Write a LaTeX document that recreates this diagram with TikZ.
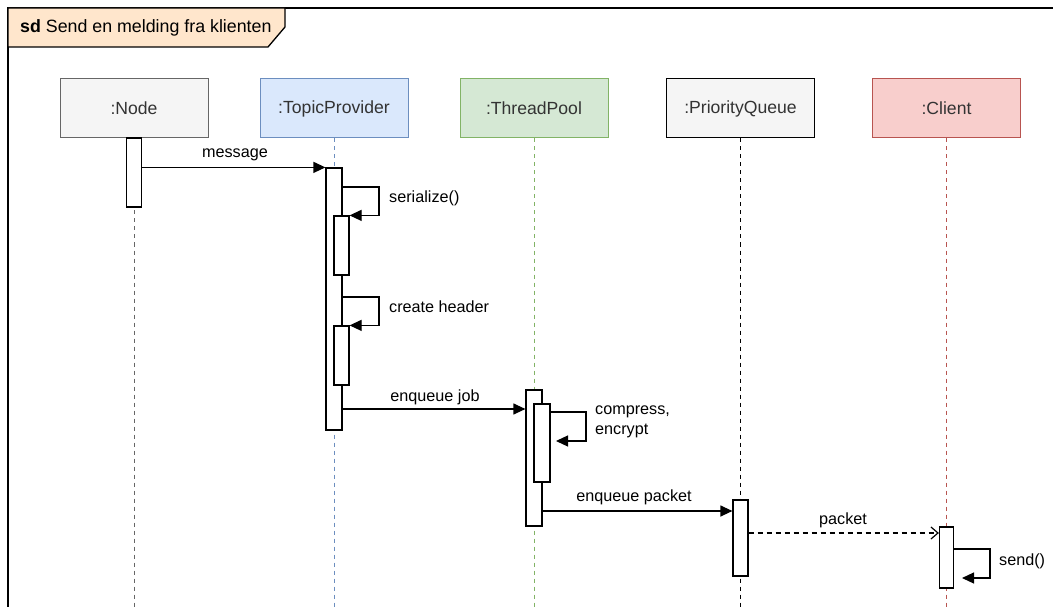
\documentclass[tikz,border=0pt]{standalone}
\usepackage{fontspec}
\setmainfont{Liberation Sans}
\usetikzlibrary{arrows.meta}
\definecolor{hdr}{HTML}{FFE6CC}
\definecolor{nodefill}{HTML}{F5F5F5}
\definecolor{nodedraw}{HTML}{666666}
\definecolor{tpfill}{HTML}{DAE8FC}
\definecolor{tpdraw}{HTML}{6C8EBF}
\definecolor{thfill}{HTML}{D5E8D4}
\definecolor{thdraw}{HTML}{82B366}
\definecolor{clfill}{HTML}{F8CECC}
\definecolor{cldraw}{HTML}{B85450}
\definecolor{txt}{HTML}{333333}
\tikzset{
  head/.style={draw, rectangle, minimum width=148pt, minimum height=59pt, inner sep=0pt, line width=1pt, text=txt, font=\fontsize{17.6}{21}\selectfont},
  bar/.style={draw=black, fill=white, rectangle, minimum width=15pt, inner sep=0pt, line width=1.2pt},
  life/.style={dash pattern=on 4pt off 4pt, line width=1pt},
  msg/.style={line width=1.2pt, -{Triangle[length=12pt,width=11pt]}},
  reply/.style={line width=1.2pt, dash pattern=on 5pt off 4pt, -{Straight Barb[length=7pt,width=12pt]}},
  lbl/.style={inner sep=0pt, text=black},
}
\begin{document}
\begin{tikzpicture}[x=1pt,y=-1pt,font=\fontsize{16.2}{20}\selectfont]
\useasboundingbox (0,0) rectangle (1053,607);
\fill[white] (0,0) rectangle (1053,607);
% frame
\draw[line width=1.3pt] (1053,8) -- (8,8) -- (8,607);
\draw[line width=1.3pt, fill=hdr] (8,8) -- (285,8) -- (285,27) -- (268,47) -- (8,47) -- cycle;
\node[lbl, anchor=west, font=\fontsize{17.8}{21}\selectfont] (title) at (20,28) {\textbf{sd} Send en melding fra klienten};
% heads
\node[head, fill=nodefill, draw=nodedraw] (hN) at (134,108.5) {:Node};
\node[head, fill=tpfill, draw=tpdraw] (hT) at (334,108.5) {:TopicProvider};
\node[head, fill=thfill, draw=thdraw] (hP) at (534,108.5) {:ThreadPool};
\node[head, fill=nodefill, draw=black] (hQ) at (740.5,108.5) {:PriorityQueue};
\node[head, fill=clfill, draw=cldraw] (hC) at (946.5,108.5) {:Client};
% lifelines
\coordinate (eN) at (134,607);
\coordinate (eT) at (334,607);
\coordinate (eP) at (534,607);
\coordinate (eQ) at (740.5,607);
\coordinate (eC) at (946.5,607);
\draw[life, draw=nodedraw] (hN.south) -- (eN);
\draw[life, draw=tpdraw] (hT.south) -- (eT);
\draw[life, draw=thdraw] (hP.south) -- (eP);
\draw[life, draw=black] (hQ.south) -- (eQ);
\draw[life, draw=cldraw] (hC.south) -- (eC);
% activation bars
\node[bar, minimum height=69pt] (nbar) at (134,172.5) {};
\node[bar, minimum height=262pt, minimum width=16pt] (tbar) at (334,299) {};
\node[bar, minimum height=59pt] (tbar2) at (341.5,245.5) {};
\node[bar, minimum height=59pt] (tbar3) at (341.5,355.5) {};
\node[bar, minimum height=136pt, minimum width=16pt] (pbar) at (534,458) {};
\node[bar, minimum height=78pt, minimum width=16pt] (pbar2) at (542,443) {};
\node[bar, minimum height=76pt] (qbar) at (740.5,538) {};
\node[bar, minimum height=61pt, minimum width=14pt] (cbar) at (946.5,557.5) {};
% message
\draw[msg] (nbar.east |- tbar.north west) -- (tbar.north west);
\node[lbl] (lmsg) at (235,155) {message};
% serialize
\coordinate (s1) at (379,187);
\draw[msg] (tbar.east |- s1) -- (s1) |- (tbar2.north east);
\node[lbl, anchor=west] (lser) at (389,198) {serialize()};
% create header
\coordinate (s2) at (379,297);
\draw[msg] (tbar.east |- s2) -- (s2) |- (tbar3.north east);
\node[lbl, anchor=west] (lhdr) at (389,307) {create header};
% enqueue job
\coordinate (j1) at (400,409);
\draw[msg] (tbar.east |- j1) -- (pbar.west |- j1);
\node[lbl] (ljob) at (435,397) {enqueue job};
% compress, encrypt
\coordinate (c1) at (586,412);
\coordinate (c2) at (556,441);
\draw[msg] (pbar2.east |- c1) -- (c1) |- (c2);
\node[lbl, anchor=west, align=left] (lcomp) at (595,422) {compress,\\encrypt};
% enqueue packet
\coordinate (p1) at (600,511);
\draw[msg] (pbar.east |- p1) -- (qbar.west |- p1);
\node[lbl] (lpkt) at (634,497) {enqueue packet};
% packet
\coordinate (k1) at (800,533);
\draw[reply] (qbar.east |- k1) -- (cbar.west |- k1);
\node[lbl] (lpacket) at (843,520) {packet};
% send
\coordinate (d1) at (990,549);
\coordinate (d2) at (962,578);
\draw[msg] (cbar.east |- d1) -- (d1) |- (d2);
\node[lbl, anchor=west] (lsend) at (999,561) {send()};
\end{tikzpicture}
\end{document}
